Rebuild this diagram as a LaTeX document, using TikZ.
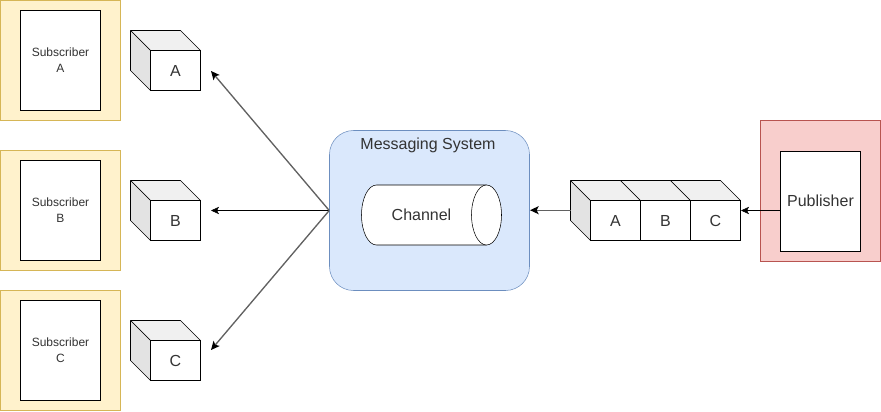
\documentclass[tikz,border=0pt]{standalone}
\usepackage{fontspec}
\setmainfont{Liberation Sans}
\usetikzlibrary{arrows.meta,shapes.geometric}
\definecolor{yfill}{HTML}{FFF2CC}\definecolor{ydraw}{HTML}{D6B656}
\definecolor{bfill}{HTML}{DAE8FC}\definecolor{bdraw}{HTML}{6C8EBF}
\definecolor{rfill}{HTML}{F8CECC}\definecolor{rdraw}{HTML}{B85450}
\definecolor{txt}{HTML}{333333}
\tikzset{
 line width=0.75pt,
 big/.style={font=\fontsize{12pt}{15pt}\selectfont,text=txt},
 box/.style={rectangle,draw=black,fill=white,minimum width=60pt,minimum height=75pt,inner sep=0pt,text=txt,align=center},
 subbox/.style={box,font=\fontsize{9pt}{12pt}\selectfont},
 pubbox/.style={box,big},
 back/.style={rectangle,minimum width=90pt,minimum height=90pt,inner sep=0pt},
 yback/.style={back,draw=ydraw,fill=yfill},
 rback/.style={back,draw=rdraw,fill=rfill,minimum height=105.4pt},
 msbox/.style={rectangle,draw=bdraw,fill=bfill,rounded corners=18pt,minimum width=150pt,minimum height=120pt,inner sep=0pt},
 front/.style={rectangle,draw=black,fill=white,minimum width=37.5pt,minimum height=30pt,inner sep=0pt,big},
 topface/.style={draw=black,fill=black!6,line join=round},
 sideface/.style={draw=black,fill=black!11,line join=round},
 plain/.style={inner sep=0pt,big},
 conn/.style={draw=black,-{Stealth[length=6pt,width=5.5pt,inset=1.5pt]}},
 grayconn/.style={draw=black!62,line width=1pt,-{Stealth[length=6.5pt,width=6pt,inset=1.5pt,color=black]}},
 cylbody/.style={draw=black,fill=white},
 cylcap/.style={ellipse,draw=black,fill=white,minimum width=22.5pt,minimum height=45pt,inner sep=0pt},
}
\begin{document}
\begin{tikzpicture}[x=0.75pt,y=-0.75pt]
\useasboundingbox (0,0) rectangle (881,411);
% subscribers
\foreach \n/\y in {A/60.5,B/210.5,C/350.5}{
  \node[yback] (back\n) at (60.5,\y) {};
  \node[subbox] (sub\n) at (60.5,\y) {Subscriber\\\n};
}
% cubes
\foreach \n/\y in {A/70.5,B/220.5,C/360.5}{
  \path[topface] (130.5,\y-40) -- (180.5,\y-40) -- (200.5,\y-20) -- (150.5,\y-20) -- cycle;
  \path[sideface] (130.5,\y-40) -- (150.5,\y-20) -- (150.5,\y+20) -- (130.5,\y) -- cycle;
  \node[front] (cube\n) at (175.5,\y) {\n};
}
% messaging system
\node[msbox] (ms) at (429.5,210.5) {};
\node[plain] (mslabel) at (428,145.5) {Messaging System};
\path[cylbody] (486.5,185) -- (376.5,185) .. controls (368.2,185) and (361.5,198.4) .. (361.5,215) .. controls (361.5,231.6) and (368.2,245) .. (376.5,245) -- (486.5,245);
\node[cylcap] (chcap) at (486.5,215) {};
\node[plain] (channel) at (421.5,215) {Channel};
% queue
\path[sideface] (570.5,180.5) -- (590.5,200.5) -- (590.5,240.5) -- (570.5,220.5) -- cycle;
\foreach \n/\x in {A/615.5,B/665.5,C/715.5}{
  \path[topface] (\x-45,180.5) -- (\x+5,180.5) -- (\x+25,200.5) -- (\x-25,200.5) -- cycle;
}
\foreach \n/\x in {A/615.5,B/665.5,C/715.5}{
  \node[front] (q\n) at (\x,220.5) {\n};
}
\coordinate (qside) at (570.5,210.2);
% publisher
\node[rback] (pubback) at (820.5,190.75) {};
\node[pubbox] (pub) at (820.5,201) {Publisher};
% connectors
\coordinate (endA) at (211,71);
\coordinate (endB) at (211,210.5);
\coordinate (endC) at (211,350);
\coordinate (endMs) at (530,210.2);
\coordinate (endQ) at (741,210.5);
\draw[grayconn] (ms.west) -- (endA);
\draw[conn] (ms.west) -- (endB);
\draw[grayconn] (ms.west) -- (endC);
\draw[grayconn] (qside) -- (endMs);
\draw[conn] (pub.west |- endQ) -- (endQ);
\end{tikzpicture}
\end{document}
